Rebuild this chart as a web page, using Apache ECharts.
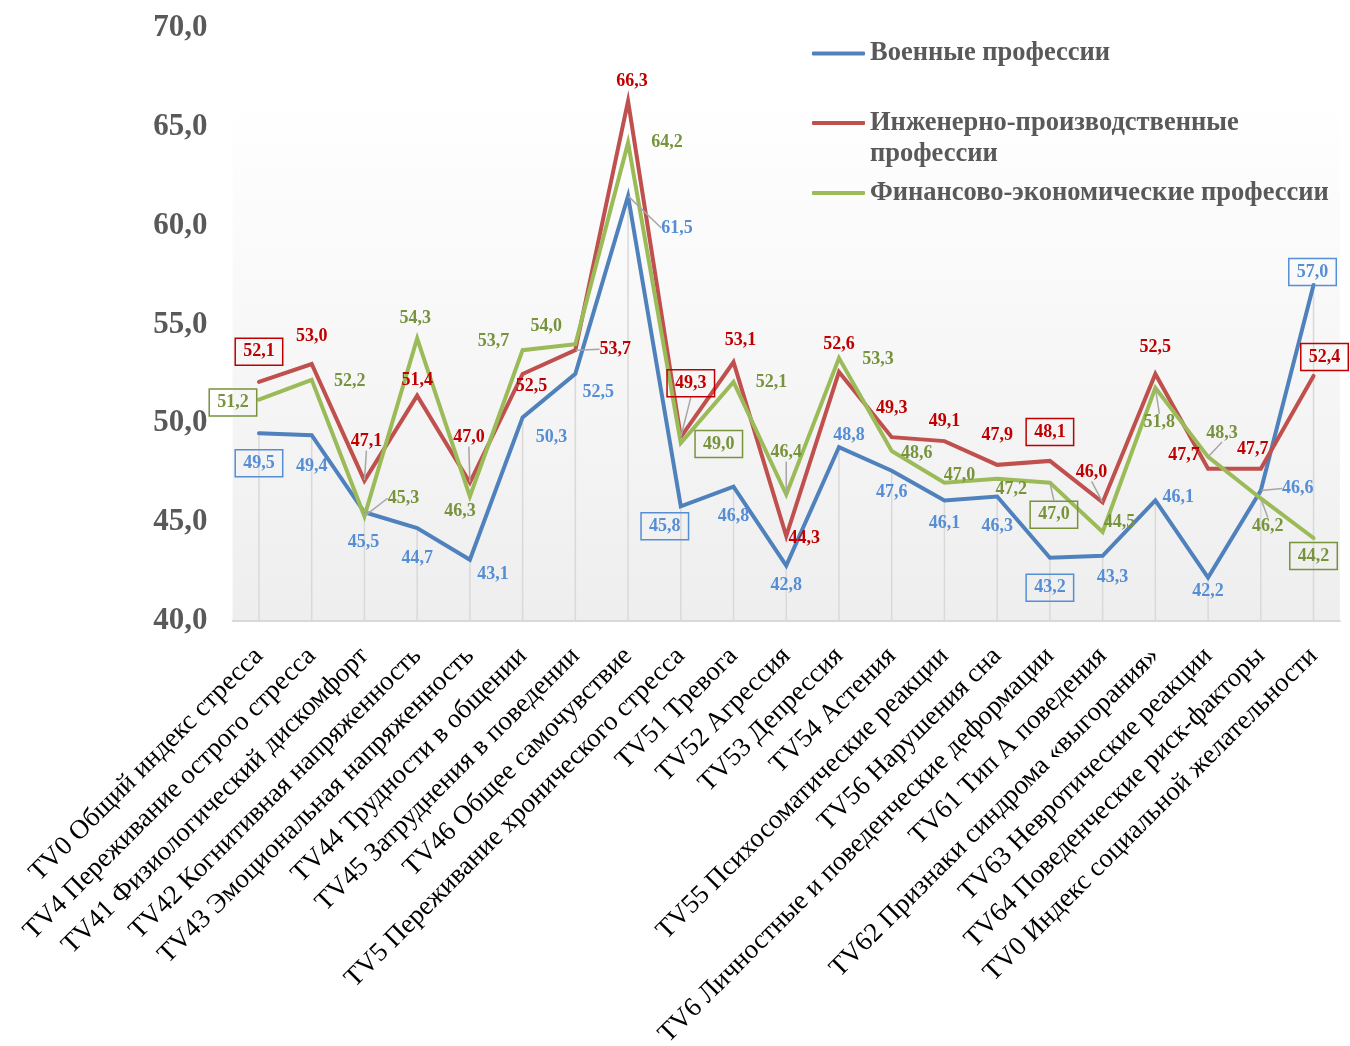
<!DOCTYPE html>
<html>
<head>
<meta charset="utf-8">
<script src="https://cdn.jsdelivr.net/npm/echarts@6/dist/echarts.min.js"></script>
<style>
  html, body { margin: 0; padding: 0; background: #ffffff; }
  #chart { width: 1350px; height: 1046px; }
</style>
</head>
<body>
<div id="chart"></div>
<script>
// Scale categories (stress questionnaire indices)
const categories = [
  'TV0 Общий индекс стресса',
  'TV4 Переживание острого стресса',
  'TV41 Физиологический дискомфорт',
  'TV42 Когнитивная напряженность',
  'TV43 Эмоциональная напряженность',
  'TV44 Трудности в общении',
  'TV45 Затруднения в поведении',
  'TV46 Общее самочувствие',
  'TV5 Переживание хронического стресса',
  'TV51 Тревога',
  'TV52 Агрессия',
  'TV53 Депрессия',
  'TV54 Астения',
  'TV55 Психосоматические реакции',
  'TV56 Нарушения сна',
  'TV6 Личностные и поведенческие деформации',
  'TV61 Тип А поведения',
  'TV62 Признаки синдрома «выгорания»',
  'TV63 Невротические реакции',
  'TV64 Поведенческие риск-факторы',
  'TV0 Индекс социальной желательности'
];

const seriesNames = [
  'Военные профессии',
  'Инженерно-производственные профессии',
  'Финансово-экономические профессии'
];

// Mean scores per professional group
const military    = [49.5, 49.4, 45.5, 44.7, 43.1, 50.3, 52.5, 61.5, 45.8, 46.8, 42.8, 48.8, 47.6, 46.1, 46.3, 43.2, 43.3, 46.1, 42.2, 46.6, 57.0];
const engineering = [52.1, 53.0, 47.1, 51.4, 47.0, 52.5, 53.7, 66.3, 49.3, 53.1, 44.3, 52.6, 49.3, 49.1, 47.9, 48.1, 46.0, 52.5, 47.7, 47.7, 52.4];
const finance     = [51.2, 52.2, 45.3, 54.3, 46.3, 53.7, 54.0, 64.2, 49.0, 52.1, 46.4, 53.3, 48.6, 47.0, 47.2, 47.0, 44.5, 51.8, 48.3, 46.2, 44.2];

// Value axis ticks
const yTicks = [40, 45, 50, 55, 60, 65, 70];

// Integral indices get framed value labels
const framedIdx = [0, 8, 15, 20];

// Label placement: offset of each value label from its point, in px
const militaryOffsets = [[0,30],[0,31],[-1,30],[0,30],[23,15],[29,20],[23,18],[49,32],[-16,20],[0,30],[0,20],[10,-12],[0,22],[0,23],[0,30],[0,30],[10,22],[23,-3],[0,14],[37,-2],[-1,-13]];
const engineeringOffsets = [[0,-30],[0,-28],[2,-39],[0,-15],[-1,-45],[9,12],[40,-1],[4,-20],[10,-54],[7,-22],[18,2],[0,-28],[0,-29],[0,-20],[0,-29],[0,-29],[-11,-30],[0,-27],[-24,-13],[-8,-19],[11,-19]];
const financeOffsets = [[-26,3],[38,1],[39,-18],[-2,-20],[-10,15],[-29,-9],[-29,-18],[39,0],[38,1],[38,1],[0,-42],[39,1],[25,2],[15,-7],[14,11],[4,32],[17,-10],[4,35],[14,-24],[7,28],[0,18]];

// Labels that get a leader line back to their point
const militaryLeaders = [7, 19];
const engineeringLeaders = [2, 4, 6, 8, 16];
const financeLeaders = [2, 10, 15, 17, 18, 19];

const SERIF = "'Liberation Serif', 'Times New Roman', serif";
const fmt = v => v.toFixed(1).replace('.', ',');

function lineSeries(name, values, color, labelColor, offsets, leaders) {
  return {
    type: 'line',
    name: name,
    z: 3,
    data: values.map((v, i) => {
      const item = { value: v, labelLine: { show: leaders.includes(i) } };
      if (framedIdx.includes(i)) {
        item.label = { borderColor: labelColor, borderWidth: 1.5, padding: [5, 8, 4, 8] };
      }
      return item;
    }),
    symbol: 'circle',
    symbolSize: 1,
    showSymbol: true,
    itemStyle: { color: color },
    lineStyle: { color: color, width: 4, join: 'miter', miterLimit: 20, cap: 'round' },
    label: {
      show: true,
      position: 'inside',
      color: labelColor,
      fontFamily: SERIF,
      fontWeight: 'bold',
      fontSize: 18,
      formatter: p => fmt(p.value)
    },
    labelLine: { show: false, lineStyle: { color: '#a6a6a6', width: 1.5 } },
    labelLayout: p => {
      const o = offsets[p.dataIndex];
      return {
        x: p.rect.x + p.rect.width / 2 + o[0],
        y: p.rect.y + p.rect.height / 2 + o[1],
        align: 'center',
        verticalAlign: 'middle'
      };
    },
    emphasis: { disabled: true }
  };
}

const legendCommon = {
  orient: 'vertical',
  left: 812,
  padding: 0,
  icon: 'roundRect',
  itemWidth: 53,
  itemHeight: 4,
  selectedMode: false,
  textStyle: { fontFamily: SERIF, fontWeight: 'bold', fontSize: 26.5, color: '#595959', lineHeight: 31 }
};

const chart = echarts.init(document.getElementById('chart'), null, { renderer: 'canvas' });

chart.setOption({
  animation: false,
  backgroundColor: '#ffffff',
  grid: {
    left: 232.6,
    right: 10.1,
    top: 28,
    bottom: 425,
    containLabel: false,
    outerBoundsMode: 'none',
    show: true,
    borderWidth: 0,
    backgroundColor: {
      type: 'linear', x: 0, y: 0, x2: 0, y2: 1,
      colorStops: [
        { offset: 0, color: '#ffffff' },
        { offset: 0.12, color: '#ffffff' },
        { offset: 1, color: '#eeeeee' }
      ]
    }
  },
  legend: [
    Object.assign({}, legendCommon, { top: 38, data: [seriesNames[0]] }),
    Object.assign({}, legendCommon, {
      top: 76.5,
      data: [seriesNames[1]],
      formatter: () => '\nИнженерно-производственные\nпрофессии'
    }),
    Object.assign({}, legendCommon, { top: 177.5, data: [seriesNames[2]] })
  ],
  xAxis: {
    type: 'category',
    data: categories,
    boundaryGap: true,
    axisLine: { show: true, lineStyle: { color: '#d9d9d9', width: 2 } },
    axisTick: { show: false },
    splitLine: { show: false },
    axisLabel: {
      interval: 0,
      rotate: 45,
      margin: 31,
      color: '#000000',
      fontFamily: SERIF,
      fontSize: 27
    }
  },
  yAxis: {
    type: 'value',
    min: yTicks[0],
    max: yTicks[yTicks.length - 1],
    interval: yTicks[1] - yTicks[0],
    axisLine: { show: false },
    axisTick: { show: false },
    splitLine: { show: false },
    axisLabel: {
      margin: 25,
      color: '#595959',
      fontFamily: SERIF,
      fontWeight: 'bold',
      fontSize: 31,
      formatter: v => fmt(v)
    }
  },
  series: [
    {
      // drop lines from the military-profession points down to the axis
      type: 'bar',
      name: 'drop',
      data: military,
      barWidth: 1.5,
      z: 1,
      silent: true,
      itemStyle: { color: '#d9d9d9' },
      emphasis: { disabled: true }
    },
    lineSeries(seriesNames[0], military, '#4f81bd', '#558ed5', militaryOffsets, militaryLeaders),
    lineSeries(seriesNames[1], engineering, '#c0504d', '#c00000', engineeringOffsets, engineeringLeaders),
    lineSeries(seriesNames[2], finance, '#9bbb59', '#77933c', financeOffsets, financeLeaders)
  ]
});
</script>
</body>
</html>
